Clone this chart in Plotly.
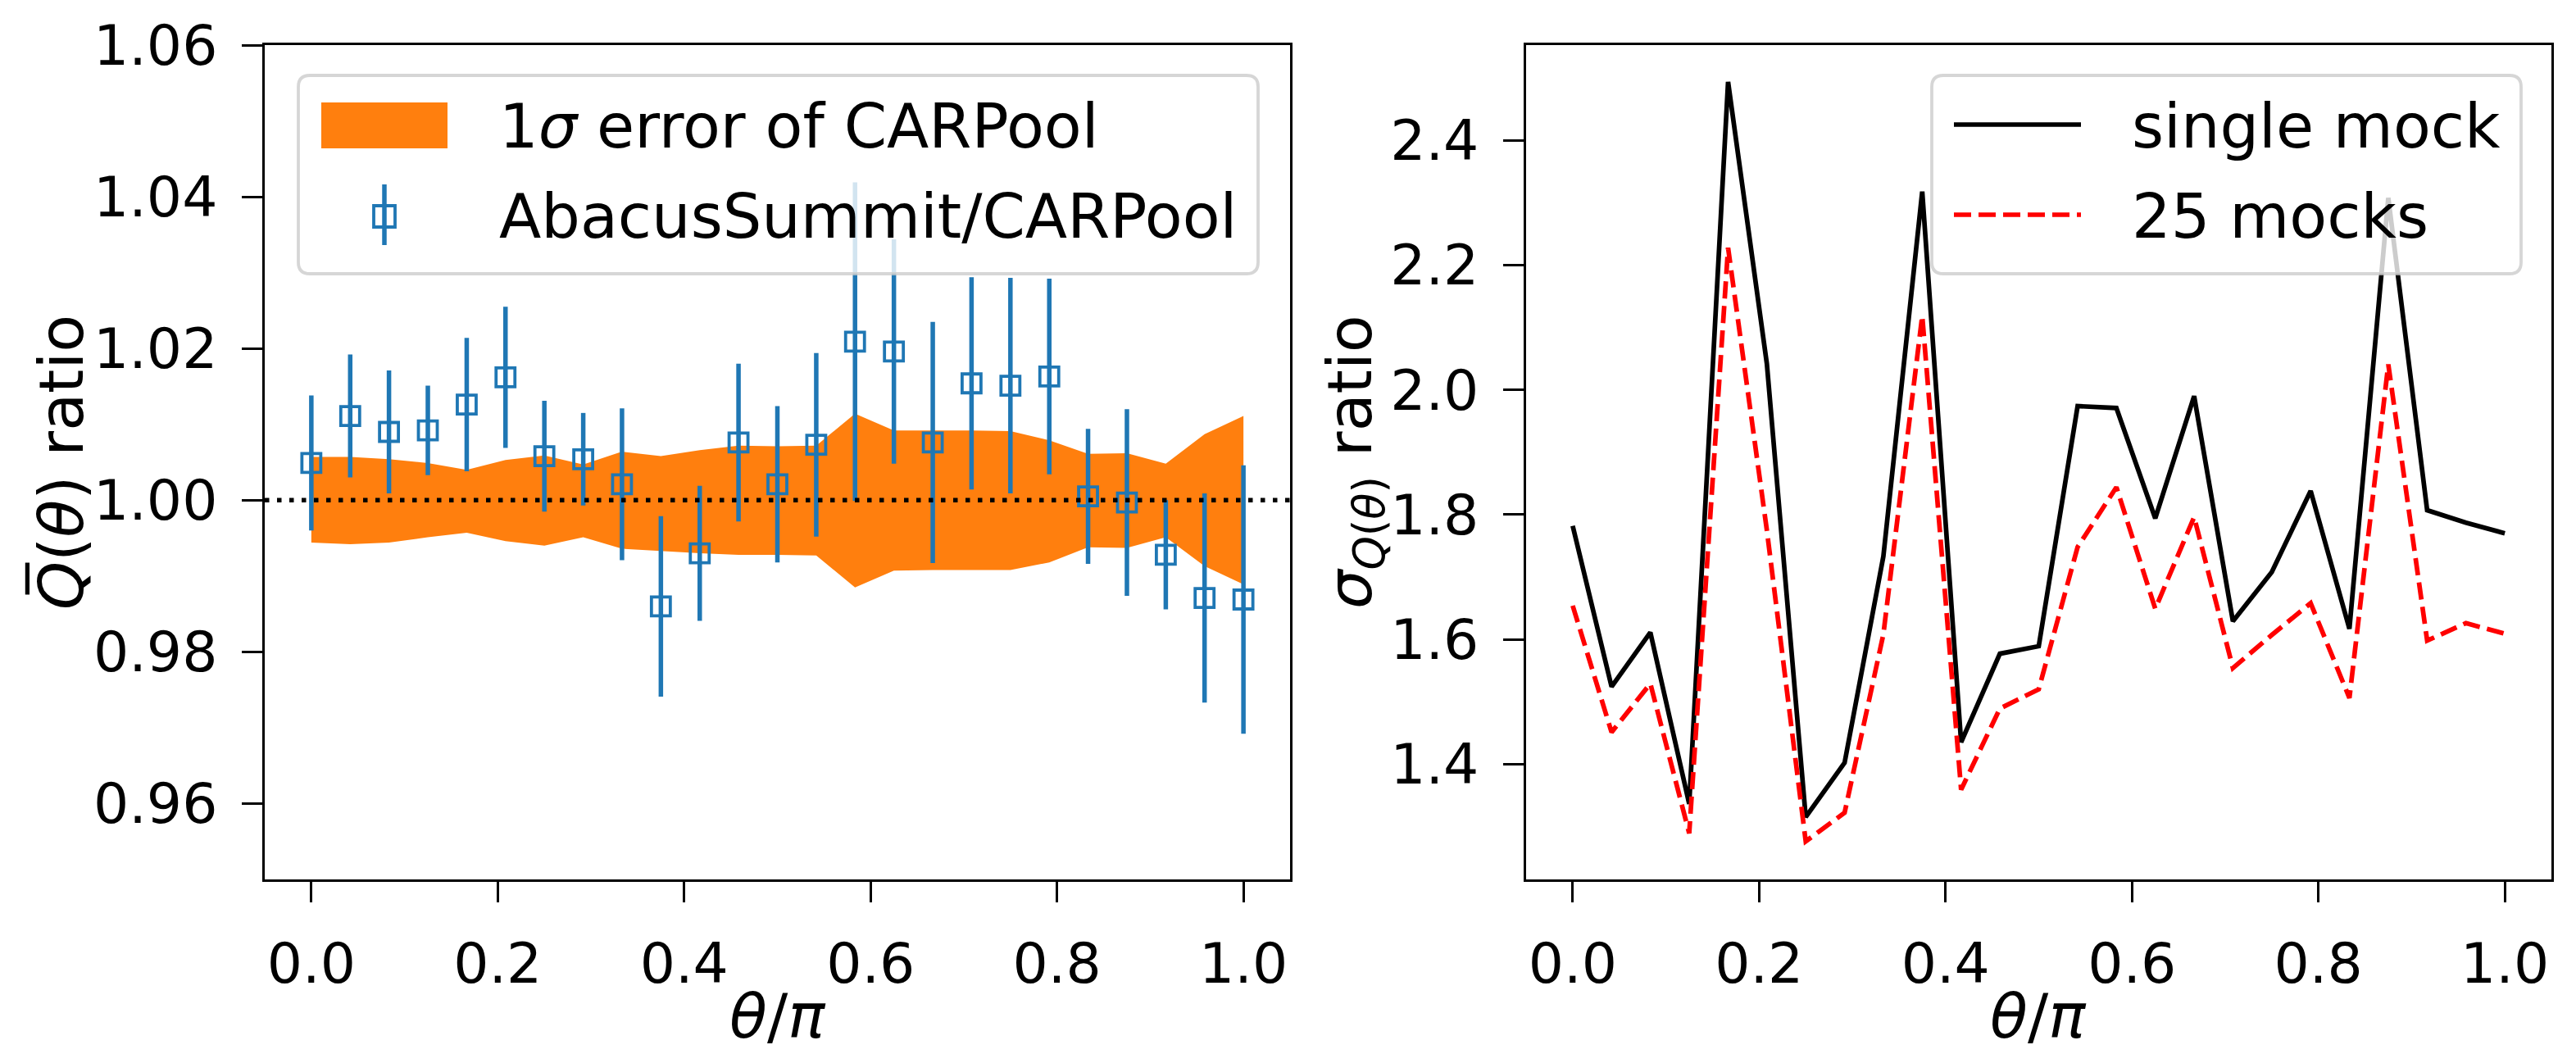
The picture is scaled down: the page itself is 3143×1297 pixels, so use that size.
import plotly.graph_objects as go

# theta / pi sampling (25 bins)
theta = [0.0, 0.0417, 0.0833, 0.125, 0.1667, 0.2083, 0.25, 0.2917, 0.3333, 0.375, 0.4167, 0.4583,
         0.5, 0.5417, 0.5833, 0.625, 0.6667, 0.7083, 0.75, 0.7917, 0.8333, 0.875, 0.9167, 0.9583, 1.0]

# left panel: AbacusSummit/CARPool ratio with errors
q_ratio = [1.0049, 1.0111, 1.0090, 1.0092, 1.0126, 1.0162, 1.0058, 1.0054, 1.0021, 0.9860, 0.9930, 1.0076,
           1.0021, 1.0073, 1.0209, 1.0196, 1.0076, 1.0154, 1.0151, 1.0163, 1.0005, 0.9997, 0.9928, 0.9871, 0.9869]
q_err = [0.0089, 0.0081, 0.0081, 0.0059, 0.0088, 0.0093, 0.0073, 0.0061, 0.0100, 0.0119, 0.0089, 0.0104,
         0.0103, 0.0121, 0.0210, 0.0148, 0.0159, 0.0140, 0.0142, 0.0129, 0.0089, 0.0123, 0.0072, 0.0138, 0.0177]

# 1 sigma band of CARPool
band_hi = [1.0057, 1.0057, 1.0054, 1.0049, 1.0040, 1.0053, 1.0059, 1.0047, 1.0064, 1.0058, 1.0066, 1.0072,
           1.0071, 1.0072, 1.0114, 1.0092, 1.0092, 1.0092, 1.0091, 1.0079, 1.0061, 1.0062, 1.0048, 1.0087, 1.0111]
band_lo = [0.9944, 0.9942, 0.9944, 0.9951, 0.9957, 0.9946, 0.9940, 0.9951, 0.9936, 0.9933, 0.9930, 0.9928,
           0.9928, 0.9927, 0.9885, 0.9907, 0.9908, 0.9908, 0.9908, 0.9918, 0.9938, 0.9937, 0.9951, 0.9913, 0.9889]

# right panel: sigma ratio
single_mock = [1.782, 1.524, 1.611, 1.336, 2.494, 2.042, 1.315, 1.402, 1.733, 2.318, 1.435, 1.577,
               1.589, 1.974, 1.971, 1.794, 1.990, 1.629, 1.708, 1.838, 1.617, 2.308, 1.807, 1.787, 1.770]
mocks_25 = [1.654, 1.451, 1.529, 1.289, 2.228, 1.775, 1.276, 1.322, 1.608, 2.119, 1.359, 1.489,
            1.520, 1.748, 1.844, 1.649, 1.796, 1.554, 1.607, 1.658, 1.506, 2.041, 1.598, 1.626, 1.609]

x_ticks = [0.0, 0.2, 0.4, 0.6, 0.8, 1.0]
q_ticks = [0.96, 0.98, 1.00, 1.02, 1.04, 1.06]
sigma_ticks = [1.4, 1.6, 1.8, 2.0, 2.2, 2.4]

W, H = 3143, 1297
FONT = 'DejaVu Sans'
ORANGE = '#ff7f0e'
BLUE = '#1f77b4'


def px(x):
    return x / W


def py(y):
    return 1 - y / H


def rounded_box(x0, y0, x1, y1, r):
    # path in paper coords, inputs in pixels
    return ('M {a},{b} L {c},{b} Q {d},{b} {d},{e} L {d},{f} Q {d},{g} {c},{g} '
            'L {a},{g} Q {h},{g} {h},{f} L {h},{e} Q {h},{b} {a},{b} Z').format(
        a=px(x0 + r), b=py(y0), c=px(x1 - r), d=px(x1), e=py(y0 + r),
        f=py(y1 - r), g=py(y1), h=px(x0))


fig = go.Figure()

fig.add_trace(go.Scatter(x=theta, y=band_lo, mode='lines', line=dict(width=0),
                         showlegend=False, hoverinfo='skip', xaxis='x', yaxis='y'))
fig.add_trace(go.Scatter(x=theta, y=band_hi, mode='lines', line=dict(width=0),
                         fill='tonexty', fillcolor=ORANGE,
                         showlegend=False, hoverinfo='skip', xaxis='x', yaxis='y'))
fig.add_trace(go.Scatter(x=theta, y=q_ratio, mode='markers',
                         error_y=dict(type='data', array=q_err, color=BLUE, thickness=5.5, width=0),
                         marker=dict(symbol='square-open', size=23, color=BLUE, line=dict(width=3.8, color=BLUE)),
                         showlegend=False, xaxis='x', yaxis='y'))

fig.add_trace(go.Scatter(x=theta, y=single_mock, mode='lines', line=dict(color='black', width=5.7),
                         showlegend=False, xaxis='x2', yaxis='y2'))
fig.add_trace(go.Scatter(x=theta, y=mocks_25, mode='lines', line=dict(color='red', width=5.7, dash='21px,9px'),
                         showlegend=False, xaxis='x2', yaxis='y2'))

axis_style = dict(showline=True, mirror=True, linecolor='black', linewidth=3,
                  ticks='outside', ticklen=25, tickwidth=3, tickcolor='black',
                  showgrid=False, zeroline=False, ticklabelstandoff=16, automargin=False,
                  tickfont=dict(family=FONT, size=68, color='black'))

y_dom = [py(1073), py(55)]
fig.update_layout(
    width=W, height=H,
    margin=dict(l=0, r=0, t=0, b=0, pad=0),
    paper_bgcolor='white', plot_bgcolor='white',
    font=dict(family=FONT, color='black'),
    xaxis=dict(domain=[px(323), px(1574)], range=[-0.05, 1.05], tickvals=x_ticks, tickformat='.1f',
               anchor='y', **axis_style),
    yaxis=dict(domain=y_dom, range=[0.95, 1.06], tickvals=q_ticks, tickformat='.2f',
               anchor='x', **axis_style),
    xaxis2=dict(domain=[px(1862), px(3113)], range=[-0.05, 1.05], tickvals=x_ticks, tickformat='.1f',
                anchor='y2', **axis_style),
    yaxis2=dict(domain=y_dom, range=[1.215, 2.553], tickvals=sigma_ticks, tickformat='.1f',
                anchor='x2', **axis_style),
)

shapes = [
    # dotted reference line at ratio 1
    dict(type='line', xref='x domain', yref='y', x0=0, x1=1, y0=1, y1=1,
         line=dict(color='black', width=5.5, dash='5.5px,9.5px'), layer='above'),
    # left legend
    dict(type='path', xref='paper', yref='paper', path=rounded_box(364, 92, 1535, 334, 14),
         fillcolor='rgba(255,255,255,0.8)', line=dict(color='rgba(204,204,204,0.8)', width=3.8), layer='above'),
    dict(type='rect', xref='paper', yref='paper', x0=px(392), x1=px(546), y0=py(181), y1=py(125),
         fillcolor=ORANGE, line=dict(width=0), layer='above'),
    dict(type='line', xref='paper', yref='paper', x0=px(469), x1=px(469), y0=py(299), y1=py(225),
         line=dict(color=BLUE, width=5.5), layer='above'),
    dict(type='rect', xref='paper', yref='paper', x0=px(456), x1=px(482), y0=py(277), y1=py(251),
         fillcolor='rgba(0,0,0,0)', line=dict(color=BLUE, width=3.8), layer='above'),
    # right legend
    dict(type='path', xref='paper', yref='paper', path=rounded_box(2357, 92, 3076, 334, 14),
         fillcolor='rgba(255,255,255,0.8)', line=dict(color='rgba(204,204,204,0.8)', width=3.8), layer='above'),
    dict(type='line', xref='paper', yref='paper', x0=px(2384), x1=px(2539), y0=py(152), y1=py(152),
         line=dict(color='black', width=5.7), layer='above'),
    dict(type='line', xref='paper', yref='paper', x0=px(2384), x1=px(2539), y0=py(262), y1=py(262),
         line=dict(color='red', width=5.7, dash='21px,9px'), layer='above'),
]

label_font = dict(family=FONT, size=75, color='black')
annotations = [
    dict(text='1<i>σ</i> error of CARPool', x=px(607), y=py(154), xanchor='left', yanchor='middle'),
    dict(text='AbacusSummit/CARPool', x=px(607), y=py(264), xanchor='left', yanchor='middle'),
    dict(text='single mock', x=px(2599), y=py(154), xanchor='left', yanchor='middle'),
    dict(text='25 mocks', x=px(2599), y=py(264), xanchor='left', yanchor='middle'),
    dict(text='<i>θ</i>/<i>π</i>', x=px(949), y=py(1240), xanchor='center', yanchor='middle'),
    dict(text='<i>θ</i>/<i>π</i>', x=px(2487), y=py(1240), xanchor='center', yanchor='middle'),
    dict(text='<i>Q\u0305</i>(<i>θ</i>) ratio', x=px(74), y=py(564), textangle=-90,
         xanchor='center', yanchor='middle'),
    dict(text='<i>σ</i><sub><i>Q</i>(<i>θ</i>)</sub> ratio', x=px(1652), y=py(564), textangle=-90,
         xanchor='center', yanchor='middle'),
]
for a in annotations:
    a.update(xref='paper', yref='paper', showarrow=False, font=label_font)

fig.update_layout(shapes=shapes, annotations=annotations)

fig.write_html('out.html', config={'displayModeBar': False},
               post_script="document.body.style.margin='0';document.body.style.overflow='hidden';")
